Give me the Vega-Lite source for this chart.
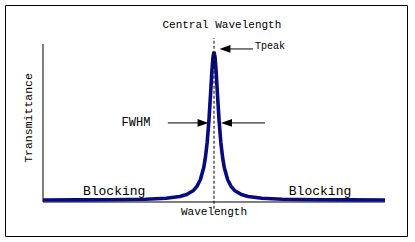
{
  "$schema": "https://vega.github.io/schema/vega-lite/v6.json",
  "width": 402,
  "height": 231,
  "autosize": "none",
  "padding": {"left": 5, "top": 5, "right": 8, "bottom": 6},
  "background": "white",
  "config": {
    "view": {"stroke": "black", "strokeWidth": 1},
    "text": {"font": "Liberation Mono", "color": "black"}
  },
  "datasets": {
    "curve": [
      {"x": 0, "y": 0.013}, {"x": 10, "y": 0.014}, {"x": 20, "y": 0.015},
      {"x": 30, "y": 0.018}, {"x": 36, "y": 0.025}, {"x": 40, "y": 0.037},
      {"x": 42, "y": 0.05}, {"x": 44, "y": 0.077}, {"x": 45, "y": 0.104},
      {"x": 46, "y": 0.148}, {"x": 47, "y": 0.23}, {"x": 47.5, "y": 0.299},
      {"x": 48, "y": 0.397}, {"x": 48.5, "y": 0.538}, {"x": 49, "y": 0.722},
      {"x": 49.4, "y": 0.878}, {"x": 49.7, "y": 0.966}, {"x": 50, "y": 1.0},
      {"x": 50.3, "y": 0.966}, {"x": 50.6, "y": 0.878}, {"x": 51, "y": 0.722},
      {"x": 51.5, "y": 0.538}, {"x": 52, "y": 0.397}, {"x": 52.5, "y": 0.299},
      {"x": 53, "y": 0.23}, {"x": 54, "y": 0.148}, {"x": 55, "y": 0.104},
      {"x": 56, "y": 0.077}, {"x": 58, "y": 0.05}, {"x": 60, "y": 0.037},
      {"x": 64, "y": 0.025}, {"x": 70, "y": 0.018}, {"x": 80, "y": 0.015},
      {"x": 90, "y": 0.014}, {"x": 100, "y": 0.013}
    ],
    "rules": [
      {"part": "y axis", "x": 0, "y": 0, "x2": 0, "y2": 1.053},
      {"part": "x axis", "x": 0, "y": 0, "x2": 100, "y2": 0},
      {"part": "tpeak shaft", "x": 53.2, "y": 1.02, "x2": 61.4, "y2": 1.02},
      {"part": "fwhm left shaft", "x": 36.5, "y": 0.527, "x2": 46.8, "y2": 0.527},
      {"part": "fwhm right shaft", "x": 53.65, "y": 0.527, "x2": 64.9, "y2": 0.527}
    ],
    "centre": [
      {"x": 50, "y": -0.045, "x2": 50, "y2": 1.093}
    ],
    "heads": [
      {"x": 53.2, "y": 1.02, "dir": "left"},
      {"x": 46.8, "y": 0.527, "dir": "right"},
      {"x": 53.65, "y": 0.527, "dir": "left"}
    ],
    "labels": [
      {"role": "title", "text": "Central Wavelength", "x": 52.3, "y": 1.16},
      {"role": "title", "text": "Wavelength", "x": 50, "y": -0.087},
      {"role": "block", "text": "Blocking", "x": 20.8, "y": 0.047},
      {"role": "block", "text": "Blocking", "x": 81.0, "y": 0.047},
      {"role": "fwhm", "text": "FWHM", "x": 27.2, "y": 0.533},
      {"role": "peak", "text": "Tpeak", "x": 62.0, "y": 1.037},
      {"role": "yaxis", "text": "Transmittance", "x": -3.2, "y": 0.56}
    ]
  },
  "encoding": {
    "x": {
      "field": "x",
      "type": "quantitative",
      "scale": {"domain": [-11.11, 106.43], "nice": false, "zero": false},
      "axis": null
    },
    "y": {
      "field": "y",
      "type": "quantitative",
      "scale": {"domain": [-0.2267, 1.313], "nice": false, "zero": false},
      "axis": null
    }
  },
  "layer": [
    {
      "data": {"name": "rules"},
      "mark": {"type": "rule", "color": "black", "strokeWidth": 1},
      "encoding": {"x2": {"field": "x2"}, "y2": {"field": "y2"}}
    },
    {
      "data": {"name": "curve"},
      "mark": {"type": "line", "color": "#0a0a80", "strokeWidth": 3.6, "strokeJoin": "bevel", "interpolate": "linear"},
      "encoding": {}
    },
    {
      "data": {"name": "centre"},
      "mark": {"type": "rule", "color": "black", "strokeWidth": 1, "strokeDash": [3, 2]},
      "encoding": {"x2": {"field": "x2"}, "y2": {"field": "y2"}}
    },
    {
      "data": {"name": "heads"},
      "transform": [{"filter": "datum.dir === 'left'"}],
      "mark": {"type": "point", "shape": "M-1,0L1,-0.7L1,0.7Z", "size": 121, "filled": true, "color": "black", "opacity": 1, "strokeWidth": 0}
    },
    {
      "data": {"name": "heads"},
      "transform": [{"filter": "datum.dir === 'right'"}],
      "mark": {"type": "point", "shape": "M1,0L-1,-0.7L-1,0.7Z", "size": 121, "filled": true, "color": "black", "opacity": 1, "strokeWidth": 0}
    },
    {
      "data": {"name": "labels"},
      "transform": [{"filter": "datum.role === 'title'"}],
      "mark": {"type": "text", "fontSize": 11, "align": "center", "baseline": "alphabetic"},
      "encoding": {"text": {"field": "text"}}
    },
    {
      "data": {"name": "labels"},
      "transform": [{"filter": "datum.role === 'block'"}],
      "mark": {"type": "text", "fontSize": 13, "align": "center", "baseline": "alphabetic"},
      "encoding": {"text": {"field": "text"}}
    },
    {
      "data": {"name": "labels"},
      "transform": [{"filter": "datum.role === 'fwhm'"}],
      "mark": {"type": "text", "fontSize": 12, "align": "center", "baseline": "middle"},
      "encoding": {"text": {"field": "text"}}
    },
    {
      "data": {"name": "labels"},
      "transform": [{"filter": "datum.role === 'peak'"}],
      "mark": {"type": "text", "fontSize": 10, "align": "left", "baseline": "middle"},
      "encoding": {"text": {"field": "text"}}
    },
    {
      "data": {"name": "labels"},
      "transform": [{"filter": "datum.role === 'yaxis'"}],
      "mark": {"type": "text", "fontSize": 11.5, "angle": 270, "align": "center", "baseline": "alphabetic"},
      "encoding": {"text": {"field": "text"}}
    }
  ]
}
